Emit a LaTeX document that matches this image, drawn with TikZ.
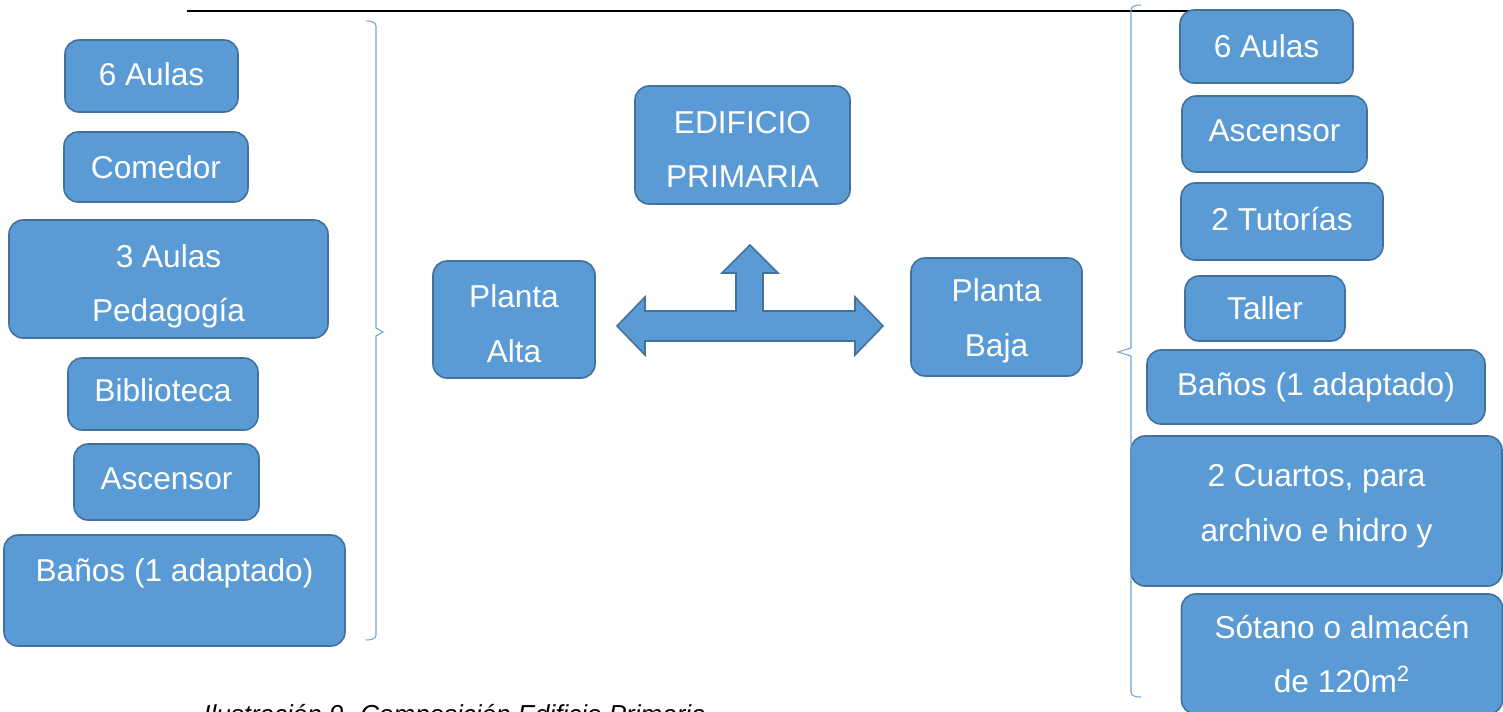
\documentclass[tikz,border=0pt]{standalone}
\usepackage{fontspec}
\setmainfont{Liberation Sans}
\usetikzlibrary{positioning}
\definecolor{boxFill}{HTML}{5B9BD5}
\definecolor{boxLine}{HTML}{41719C}
\definecolor{braceColor}{HTML}{6FA3D8}
\tikzset{
	room/.style={draw=boxLine, fill=boxFill, line width=0.9pt, rounded corners=2.8mm,
		text=white, align=center, font=\fontsize{18}{31}\selectfont, inner sep=0pt,
		minimum width=#1},
	room/.default=3cm,
	brace/.style={draw=braceColor, line width=0.6pt}
}
\newcommand{\sqm}{120m\textsuperscript{2}}

\begin{document}
\begin{tikzpicture}[x=0.02cm, y=-0.02cm]
\useasboundingbox (0,0) rectangle (1503,711);
\draw[line width=1.1pt] (187,11) -- (1292,11);

% planta alta
\node[room=173*0.02cm, minimum height=72*0.02cm, text depth=2.3pt] (a1) at (151.5,76) {6 Aulas};
\node[room=184*0.02cm, minimum height=70*0.02cm] (a2) at (156,167) {Comedor};
\node[room=319*0.02cm, minimum height=118*0.02cm, text height=52.6pt] (a3) at (168.5,279) {3 Aulas\\Pedagogía};
\node[room=190*0.02cm, minimum height=72*0.02cm, text depth=5pt] (a4) at (163,394) {Biblioteca};
\node[room=185*0.02cm, minimum height=76*0.02cm, text depth=3.4pt] (a5) at (166.5,482) {Ascensor};
\node[room=341*0.02cm, minimum height=111*0.02cm, text depth=23.6pt] (a6) at (174.5,590.5) {Baños (1 adaptado)};
\path[brace] (366,21) to[out=0,in=90] (376,26) -- (376,328) -- (383,332) -- (376,336)
	-- (376,635) to[out=-90,in=0] (366,640);

% centro
\node[room=215*0.02cm, minimum height=118*0.02cm, text height=48.4pt] (ed) at (742.5,145) {EDIFICIO\\PRIMARIA};
\node[room=162*0.02cm, minimum height=117*0.02cm, text height=48.6pt] (alta) at (514,319.5) {Planta\\Alta};
\node[room=171*0.02cm, minimum height=118*0.02cm, text height=48.6pt] (baja) at (996.5,317) {Planta\\Baja};
\filldraw[draw=boxLine, fill=boxFill, line width=0.9pt, line join=miter]
	(617,326) -- (645,297) -- (645,311) -- (736,311) -- (736,273) -- (722,273)
	-- (750,245) -- (778,273) -- (763,273) -- (763,311) -- (855,311) -- (855,297)
	-- (883,326) -- (855,355) -- (855,341) -- (645,341) -- (645,355) -- cycle;

% planta baja
\node[room=173*0.02cm, minimum height=73*0.02cm] (b1) at (1266.5,46.5) {6 Aulas};
\node[room=185*0.02cm, minimum height=76*0.02cm, text depth=3.4pt] (b2) at (1274.5,134) {Ascensor};
\node[room=202*0.02cm, minimum height=77*0.02cm, text depth=3.4pt] (b3) at (1282,221.5) {2 Tutorías};
\node[room=160*0.02cm, minimum height=65*0.02cm] (b4) at (1265,308.5) {Taller};
\node[room=338*0.02cm, minimum height=74*0.02cm] (b5) at (1316,387) {Baños (1 adaptado)};
\node[room=371*0.02cm, minimum height=150*0.02cm, text depth=9pt] (b6) at (1316.5,511) {2 Cuartos, para\\archivo e hidro y};
\node[room=321*0.02cm, minimum height=120*0.02cm] (b7) at (1342,654) {Sótano o almacén\\de \sqm};
\path[brace] (1141,5) to[out=180,in=90] (1131,10) -- (1131,348) -- (1118,352) -- (1131,356)
	-- (1131,692) to[out=-90,in=180] (1141,697);

\node[anchor=base west, font=\fontsize{14.8}{18}\selectfont\itshape, inner sep=0pt] (cap) at (203,723)
	{Ilustración 9. Composición Edificio Primaria};
\end{tikzpicture}
\end{document}
